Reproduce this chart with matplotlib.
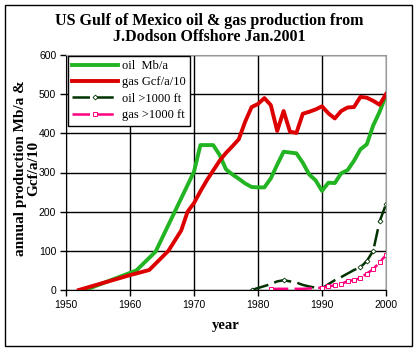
import matplotlib
matplotlib.use("Agg")
import matplotlib.pyplot as plt
from matplotlib.patches import Rectangle

# values (Mb/a and Gcf/a/10)
oil_years = [1953, 1961, 1964, 1970, 1971, 1973, 1974, 1975, 1976, 1977, 1978,
             1979, 1980, 1981, 1982, 1983, 1984, 1985, 1986, 1987, 1988, 1989,
             1990, 1991, 1992, 1993, 1994, 1995, 1996, 1997, 1998, 1999, 2000]
oil = [0, 50, 98, 302, 370, 370, 345, 308, 295, 284, 272,
       263, 262, 262, 285, 320, 353, 351, 349, 325, 295, 280,
       253, 274, 273, 298, 306, 330, 359, 372, 420, 455, 497]

gas_years = [1952, 1960, 1963, 1966, 1968, 1969, 1970, 1971, 1972, 1973, 1974,
             1975, 1976, 1977, 1978, 1979, 1980, 1981, 1982, 1983, 1984, 1985,
             1986, 1987, 1988, 1989, 1990, 1991, 1992, 1993, 1994, 1995, 1996,
             1997, 1998, 1999, 2000]
gas = [0, 38, 51, 100, 152, 200, 222, 252, 280, 305, 330,
       350, 367, 385, 430, 467, 475, 490, 472, 406, 457, 404,
       401, 450, 455, 461, 469, 451, 438, 457, 466, 467, 493,
       491, 483, 473, 500]

deep_oil_years = [1979, 1980, 1981, 1982, 1983, 1984, 1985, 1986, 1987, 1988, 1989,
                  1990, 1991, 1992, 1993, 1994, 1995, 1996, 1997, 1998, 1999, 2000]
deep_oil = [0, 5, 10, 15, 22, 25, 22, 19, 13, 9, 6,
            4, 15, 25, 33, 42, 51, 58, 74, 100, 175, 219]
deep_oil_marked = [1979, 1984, 1996, 1997, 1998, 1999, 2000]

deep_gas_years = [1982, 1983, 1984, 1985, 1986, 1987, 1988, 1989, 1990, 1991,
                  1992, 1993, 1994, 1995, 1996, 1997, 1998, 1999, 2000]
deep_gas = [2, 3, 3, 3, 3, 3, 4, 5, 6, 9, 12, 15, 23, 25, 31, 42, 53, 71, 89]
deep_gas_marked = [1982, 1990, 1991, 1992, 1993, 1994, 1995, 1996, 1997, 1998, 1999, 2000]

fig = plt.figure(figsize=(4.18, 3.51), dpi=100)
W, H = 418, 351
ax = fig.add_axes([66 / W, (H - 290) / H, (386 - 66) / W, (290 - 55) / H])

ax.plot(oil_years, oil, color="#22b422", lw=2.8, label="oil  Mb/a")
ax.plot(gas_years, gas, color="#dd0000", lw=2.8, label="gas Gcf/a/10")
ax.plot(deep_oil_years, deep_oil, color="#003300", lw=1.8, dashes=(7, 2.5),
        marker="D", ms=2.5, mfc="white", mec="#003300", mew=0.6,
        markevery=[deep_oil_years.index(y) for y in deep_oil_marked], label="oil >1000 ft")
ax.plot(deep_gas_years, deep_gas, color="#ff0080", lw=1.8, dashes=(7, 2.5),
        marker="s", ms=3, mfc="white", mec="#ff0080", mew=0.7,
        markevery=[deep_gas_years.index(y) for y in deep_gas_marked], label="gas >1000 ft")

ax.set_xlim(1950, 2000)
ax.set_ylim(0, 600)
ax.set_xticks(range(1950, 2001, 10))
ax.set_yticks(range(0, 601, 100))
ax.grid(True, color="black", lw=1)
ax.set_axisbelow(True)
for s in ["top", "right"]:
    ax.spines[s].set_color("#999999")
for s in ["left", "bottom"]:
    ax.spines[s].set_color("black")
ax.tick_params(direction="out", length=4, width=1, labelsize=7.5, pad=3)
for lab in ax.get_xticklabels() + ax.get_yticklabels():
    lab.set_family("Liberation Sans")

leg = ax.legend(loc="upper left", bbox_to_anchor=(0.005, 0.997), borderaxespad=0,
                fancybox=False, framealpha=1, edgecolor="black", handlelength=3.7,
                handletextpad=0.3, borderpad=0.35, labelspacing=0.35,
                prop={"family": "Liberation Serif", "size": 9})
leg.get_frame().set_linewidth(1)

fig.text(0.5, 1 - 21 / H, "US Gulf of Mexico oil & gas production from", ha="center",
         va="center", family="Liberation Serif", weight="bold", fontsize=11.5)
fig.text(0.5, 1 - 37 / H, "J.Dodson Offshore Jan.2001", ha="center",
         va="center", family="Liberation Serif", weight="bold", fontsize=11.5)
fig.text(27 / W, 1 - 168 / H, "annual production Mb/a &\nGcf/a/10", ha="center",
         va="center", rotation=90, family="Liberation Serif", weight="bold",
         fontsize=11, linespacing=0.95)
fig.text(226 / W, 1 - 325 / H, "year", ha="center", va="center",
         family="Liberation Serif", weight="bold", fontsize=10.5)

fig.add_artist(Rectangle((5 / W, 5 / H), 407 / W, 341 / H, transform=fig.transFigure,
                         fill=False, edgecolor="black", lw=1))

fig.savefig("out.png", dpi=100)
